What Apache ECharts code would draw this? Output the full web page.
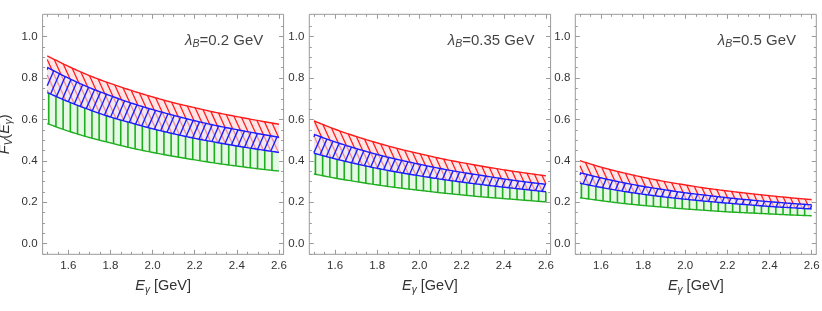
<!DOCTYPE html>
<html><head><meta charset="utf-8">
<script src="https://cdn.jsdelivr.net/npm/echarts@6/dist/echarts.min.js"></script>
<style>html,body{margin:0;padding:0;background:#fff}#c{width:822px;height:311px}</style>
</head><body><div id="c"></div>
<script>
// ---- data ----
const E = [1.5,1.6,1.7,1.8,1.9,2.0,2.1,2.2,2.3,2.4,2.5,2.6];
// panel 1: lambda_B = 0.2 GeV
const red1Up   = [0.907,0.857,0.812,0.774,0.740,0.709,0.681,0.657,0.634,0.614,0.595,0.577];
const blue1Up  = [0.852,0.800,0.754,0.715,0.679,0.648,0.620,0.594,0.571,0.551,0.532,0.514];
const blue1Lo  = [0.730,0.686,0.647,0.612,0.583,0.555,0.531,0.509,0.490,0.472,0.456,0.441];
const green1Lo = [0.580,0.544,0.513,0.487,0.462,0.441,0.422,0.405,0.389,0.375,0.362,0.351];
// panel 2: lambda_B = 0.35 GeV
const red2Up   = [0.593,0.553,0.518,0.487,0.459,0.435,0.412,0.392,0.374,0.357,0.342,0.328];
const blue2Up  = [0.528,0.492,0.460,0.431,0.406,0.384,0.363,0.345,0.329,0.313,0.299,0.287];
const blue2Lo  = [0.437,0.410,0.386,0.364,0.345,0.328,0.312,0.298,0.285,0.273,0.262,0.251];
const green2Lo = [0.337,0.317,0.300,0.284,0.270,0.258,0.246,0.236,0.226,0.218,0.210,0.202];
// panel 3: lambda_B = 0.5 GeV
const red3Up   = [0.401,0.370,0.344,0.321,0.301,0.284,0.268,0.255,0.243,0.232,0.222,0.213];
const blue3Up  = [0.343,0.318,0.296,0.277,0.261,0.246,0.234,0.222,0.212,0.203,0.195,0.188];
const blue3Lo  = [0.292,0.272,0.254,0.239,0.226,0.215,0.205,0.196,0.188,0.180,0.174,0.168];
const green3Lo = [0.222,0.208,0.195,0.185,0.176,0.168,0.161,0.154,0.149,0.144,0.139,0.135];

const lambdaB = ['0.2', '0.35', '0.5'];
const xMajor = [1.6,1.8,2.0,2.2,2.4,2.6];
const xMinor = [1.5,1.55,1.65,1.7,1.75,1.85,1.9,1.95,2.05,2.1,2.15,2.25,2.3,2.35,2.45,2.5,2.55];
const yMajor = [0,0.2,0.4,0.6,0.8,1.0];
const yMinor = [-0.05,0.05,0.1,0.15,0.25,0.3,0.35,0.45,0.5,0.55,0.65,0.7,0.75,0.85,0.9,0.95,1.05];
const XMIN = 1.478, XMAX = 2.622, YMIN = -0.051, YMAX = 1.108;

const panels = [
  {rUp: red1Up, bUp: blue1Up, bLo: blue1Lo, gLo: green1Lo},
  {rUp: red2Up, bUp: blue2Up, bLo: blue2Lo, gLo: green2Lo},
  {rUp: red3Up, bUp: blue3Up, bLo: blue3Lo, gLo: green3Lo}
];

const FONT = 'Liberation Sans, Arial, sans-serif';
const RED = '#ff1a1a', BLUE = '#1c1cff', GREEN = '#1fae1f';
const RED_FILL = 'rgba(255,0,0,0.10)', GREEN_FILL = 'rgba(0,200,0,0.10)', BLUE_FILL = 'rgba(228,234,250,0.55)';

function interp(arr, e) {
  const n = E.length, h = E[1] - E[0];
  let i = Math.floor((e - E[0]) / h + 1e-9);
  if (i < 0) i = 0; if (i > n - 2) i = n - 2;
  const t = (e - E[i]) / h;
  const p1 = arr[i], p2 = arr[i + 1];
  const p0 = i > 0 ? arr[i - 1] : 2 * p1 - p2;
  const p3 = i < n - 2 ? arr[i + 2] : 2 * p2 - p1;
  return 0.5 * (2 * p1 + (-p0 + p2) * t + (2 * p0 - 5 * p1 + 4 * p2 - p3) * t * t + (-p0 + 3 * p1 - 3 * p2 + p3) * t * t * t);
}

function bandRenderer(pd) {
  return function (params, api) {
    const e0 = E[0], e1 = E[E.length - 1];
    const px0 = api.coord([e0, 0])[0], px1 = api.coord([e1, 0])[0];
    const toE = px => e0 + (px - px0) / (px1 - px0) * (e1 - e0);
    const Y = (arr, px) => { const e = toE(px); return api.coord([e, interp(arr, e)])[1]; };
    const N = 160, xs = [];
    for (let i = 0; i <= N; i++) xs.push(px0 + (px1 - px0) * i / N);
    const line = arr => xs.map(x => [x, Y(arr, x)]);
    const area = (up, lo) => line(up).concat(line(lo).reverse());
    const kids = [];
    const poly = (pts, fill) => kids.push({type: 'polygon', shape: {points: pts}, style: {fill: fill, stroke: null}});
    const pl = (pts, color, w) => kids.push({type: 'polyline', shape: {points: pts}, style: {stroke: color, lineWidth: w, fill: null}});
    const seg = (x1, y1, x2, y2, color, w) => kids.push({type: 'line', shape: {x1, y1, x2, y2}, style: {stroke: color, lineWidth: w}});

    function interval(g, wantPos) {
      const a = g(px0), b = g(px1);
      const okA = wantPos ? a >= 0 : a <= 0, okB = wantPos ? b >= 0 : b <= 0;
      if (okA && okB) return [px0, px1];
      if (!okA && !okB) return null;
      let l = px0, h = px1;
      for (let k = 0; k < 30; k++) {
        const m = (l + h) / 2, gm = g(m);
        const okM = wantPos ? gm >= 0 : gm <= 0;
        if (okM === okA) l = m; else h = m;
      }
      const r = (l + h) / 2;
      return okA ? [px0, r] : [r, px1];
    }
    function hatch(up, lo, s, step, color, w) {
      const yT = Y(up, px0), yB = Y(lo, px0);
      const span = (yB - yT) / s;
      const cStart = Math.min(px0, px0 - span) - 20, cEnd = Math.max(px1, px1 - span) + 20;
      for (let c = cStart; c <= cEnd; c += step) {
        const L = x => yT + s * (x - c);
        const iu = interval(x => L(x) - Y(up, x), true);
        const il = interval(x => L(x) - Y(lo, x), false);
        if (!iu || !il) continue;
        const a = Math.max(iu[0], il[0]), b = Math.min(iu[1], il[1]);
        if (b - a < 0.05) continue;
        seg(a, L(a), b, L(b), color, w);
      }
    }

    // green band
    poly(area(pd.bLo, pd.gLo), GREEN_FILL);
    for (let x = px0 + 1.5; x <= px1 + 0.01; x += 7.2) seg(x, Y(pd.bLo, x), x, Y(pd.gLo, x), GREEN, 1.6);
    pl(line(pd.gLo), GREEN, 1.4);
    // red band
    poly(area(pd.rUp, pd.bLo), RED_FILL);
    hatch(pd.rUp, pd.bLo, 2.2, 7.0, RED, 1.25);
    pl(line(pd.rUp), RED, 1.4);
    // blue band
    poly(area(pd.bUp, pd.bLo), BLUE_FILL);
    hatch(pd.bUp, pd.bLo, -2.3, 7.0, BLUE, 1.35);
    pl(line(pd.bUp), BLUE, 1.4);
    pl(line(pd.bLo), BLUE, 1.4);
    return {type: 'group', children: kids};
  };
}

const grids = [
  {left: 42.6, top: 14.3, width: 241, height: 240},
  {left: 309.3, top: 14.3, width: 241.3, height: 240},
  {left: 575.3, top: 14.3, width: 241, height: 240}
].map(g => Object.assign(g, {show: true, borderColor: '#9a9a9a', borderWidth: 1, backgroundColor: 'transparent', outerBoundsMode: 'none', containLabel: false}));

const TICK = {color: '#9a9a9a', width: 1};
const axisNameRich = {
  i: {fontFamily: FONT, fontStyle: 'italic', fontSize: 14.5, color: '#333', lineHeight: 19},
  s: {fontFamily: FONT, fontStyle: 'italic', fontSize: 10, color: '#333', lineHeight: 10, verticalAlign: 'bottom'},
  n: {fontFamily: FONT, fontSize: 14.5, color: '#333', lineHeight: 19}
};
const fmt = v => v.toFixed(1);

const xAxis = [], yAxis = [], series = [];
grids.forEach((g, gi) => {
  ['bottom', 'top'].forEach(pos => {
    xAxis.push({gridIndex: gi, type: 'value', min: XMIN, max: XMAX, position: pos,
      axisLine: {show: false, onZero: false}, splitLine: {show: false},
      axisTick: {show: true, inside: true, length: 4.5, customValues: xMajor, lineStyle: TICK},
      axisLabel: {show: pos === 'bottom', customValues: xMajor, formatter: fmt, margin: 6, color: '#333', fontSize: 11.5, fontFamily: FONT},
      name: pos === 'bottom' ? '{i|E}{s|γ}{n| [GeV]}' : '', nameLocation: 'middle', nameGap: 22,
      nameTextStyle: {rich: axisNameRich}
    });
    xAxis.push({gridIndex: gi, type: 'value', min: XMIN, max: XMAX, position: pos,
      axisLine: {show: false, onZero: false}, splitLine: {show: false},
      axisTick: {show: true, inside: true, length: 2.5, customValues: xMinor, lineStyle: TICK},
      axisLabel: {show: false}
    });
  });
  ['left', 'right'].forEach(pos => {
    yAxis.push({gridIndex: gi, type: 'value', min: YMIN, max: YMAX, position: pos,
      axisLine: {show: false, onZero: false}, splitLine: {show: false},
      axisTick: {show: true, inside: true, length: 4.5, customValues: yMajor, lineStyle: TICK},
      axisLabel: {show: pos === 'left', customValues: yMajor, formatter: fmt, margin: 5, color: '#333', fontSize: 11.5, fontFamily: FONT},
      name: (pos === 'left' && gi === 0) ? '{i|F}{s|V}{n|(}{i|E}{s|γ}{n|)}' : '', nameLocation: 'middle', nameGap: 28,
      nameTextStyle: {rich: axisNameRich}
    });
    yAxis.push({gridIndex: gi, type: 'value', min: YMIN, max: YMAX, position: pos,
      axisLine: {show: false, onZero: false}, splitLine: {show: false},
      axisTick: {show: true, inside: true, length: 2.5, customValues: yMinor, lineStyle: TICK},
      axisLabel: {show: false}
    });
  });
  series.push({type: 'custom', xAxisIndex: gi * 4, yAxisIndex: gi * 4, data: [[E[0], panels[gi].gLo[0]]],
    renderItem: bandRenderer(panels[gi]), silent: true, animation: false, z: 2});
  series.push({type: 'scatter', xAxisIndex: gi * 4, yAxisIndex: gi * 4, data: [[2.34, 0.982]],
    symbolSize: 0, silent: true, animation: false, z: 5,
    label: {show: true, position: 'inside', formatter: '{i|λ}{s|B}{n|=' + lambdaB[gi] + ' GeV}',
      rich: {
        i: {fontFamily: FONT, fontStyle: 'italic', fontSize: 15, color: '#111', lineHeight: 19},
        s: {fontFamily: FONT, fontStyle: 'italic', fontSize: 10.5, color: '#111', lineHeight: 10.5, verticalAlign: 'bottom'},
        n: {fontFamily: FONT, fontSize: 15, color: '#111', lineHeight: 19}
      }}
  });
});

const chart = echarts.init(document.getElementById('c'), null, {renderer: 'canvas'});
chart.setOption({animation: false, backgroundColor: '#fff', grid: grids, xAxis, yAxis, series});
</script></body></html>
